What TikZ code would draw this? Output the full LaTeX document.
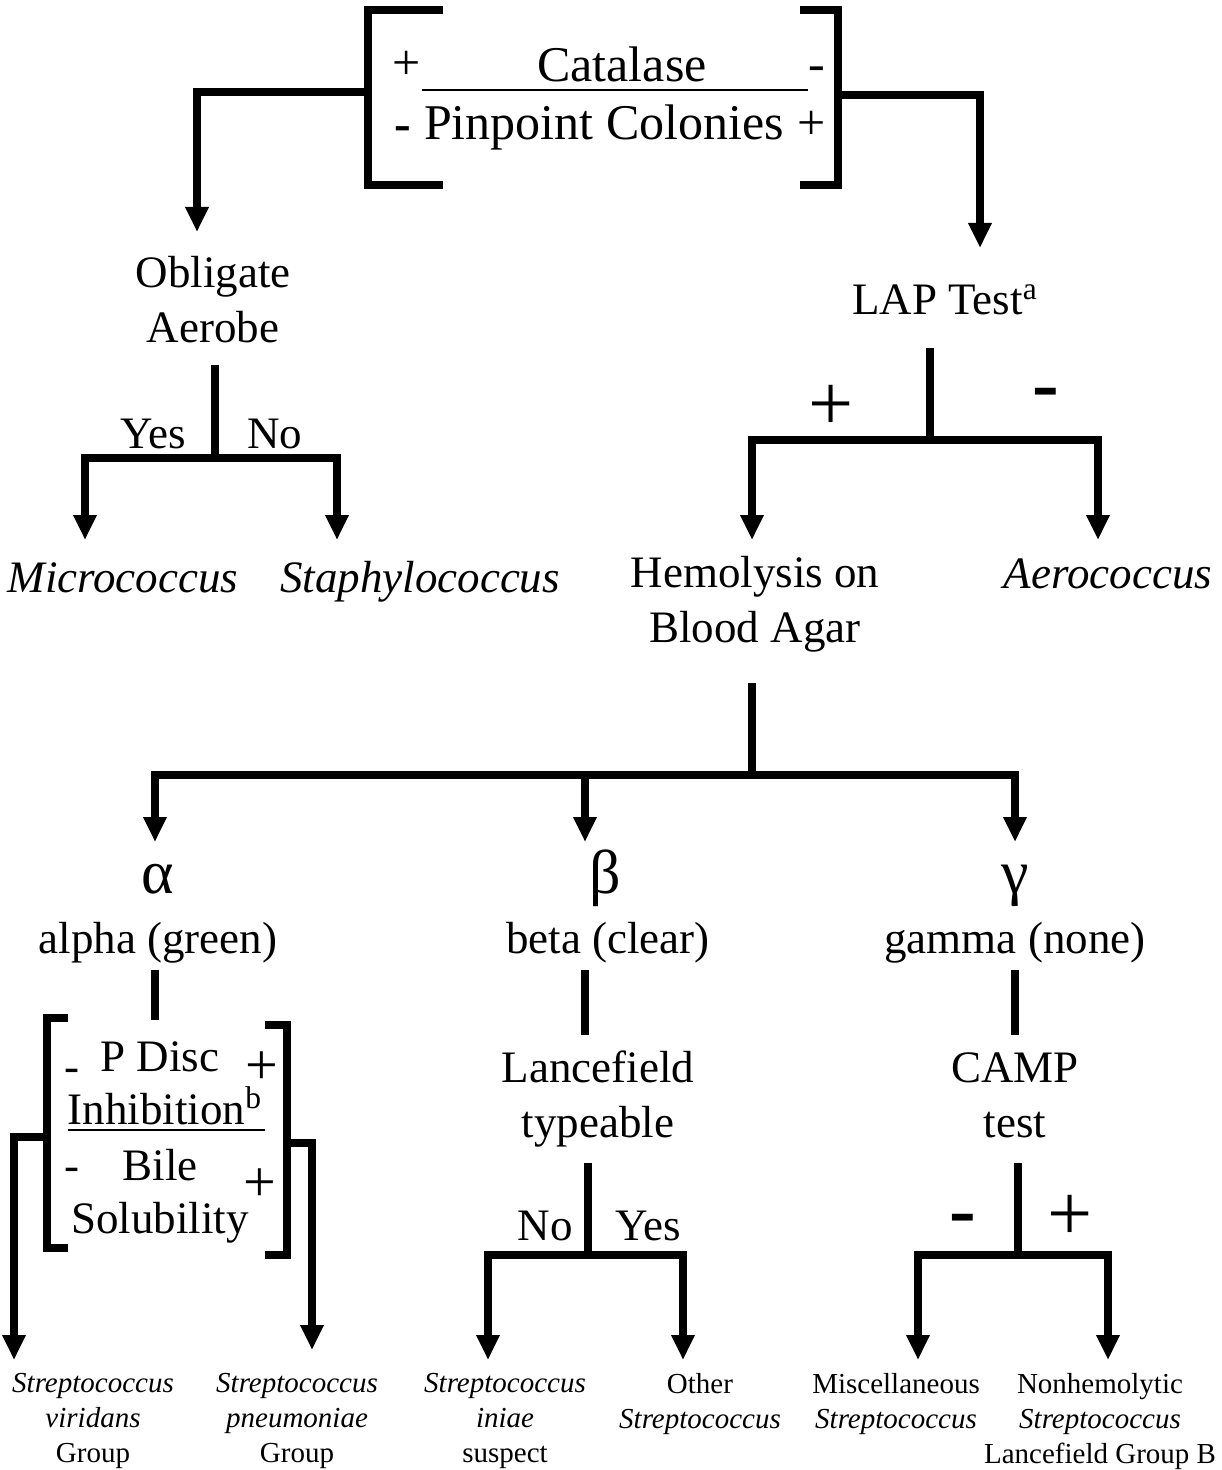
\documentclass[tikz,border=0pt]{standalone}
\usepackage{fontspec}
\setmainfont{Liberation Serif}
\usetikzlibrary{arrows.meta}
\begin{document}
\begin{tikzpicture}[x=0.5pt,y=-0.5pt,
 conn/.style={line width=3.6pt, line cap=butt, line join=miter},
 arr/.style={conn,-{Triangle[width=11pt,length=12.5pt]}},
 main/.style={font=\fontsize{22.5}{27.5}\selectfont, align=center, inner sep=0pt},
 topf/.style={font=\fontsize{25}{30}\selectfont, inner sep=0pt},
 small/.style={font=\fontsize{14.5}{17.5}\selectfont, align=center, inner sep=0pt, anchor=north},
 bigsign/.style={font=\fontsize{40}{40}\selectfont, inner sep=0pt},
 midsign/.style={font=\fontsize{29}{30}\selectfont, inner sep=0pt},
 greek/.style={font=\fontsize{31}{34}\selectfont, inner sep=0pt, anchor=base},
]
\useasboundingbox (0,0) rectangle (1221,1470);

% ---------- top box ----------
\node[topf] (plusA) at (407,65) {+};
\node[topf, anchor=base] (catalase) at (622,82) {Catalase};
\node[topf, anchor=base] (minusA) at (817,81) {-};
\draw[line width=1pt] (422,90) -- (808,90);
\node[topf, anchor=base, font=\fontsize{25}{30}\selectfont\bfseries] (minusB) at (403,141) {-};
\node[topf, anchor=base] (pinpoint) at (604,140) {Pinpoint Colonies};
\node[topf] (plusB) at (812,125) {+};
\coordinate (tlb1) at (443,10); \coordinate (tlb2) at (368,10);
\coordinate (tlb3) at (368,185); \coordinate (tlb4) at (443,185);
\coordinate (trb1) at (800,10); \coordinate (trb2) at (838,10);
\coordinate (trb3) at (838,185); \coordinate (trb4) at (800,185);
\draw[conn] (tlb1) -- (tlb2) -- (tlb3) -- (tlb4);
\draw[conn] (trb1) -- (trb2) -- (trb3) -- (trb4);
\coordinate (tl) at (368,92); \coordinate (tlend) at (197,232);
\coordinate (tr) at (838,95); \coordinate (trend) at (980,248);
\draw[arr] (tl) -| (tlend);
\draw[arr] (tr) -| (trend);

% ---------- obligate aerobe ----------
\node[main] (ob) at (213,300) {Obligate\\Aerobe};
\coordinate (obs) at (215,365); \coordinate (obj) at (215,458);
\coordinate (micend) at (85,540); \coordinate (staend) at (337,540);
\draw[conn] (obs) -- (obj);
\draw[arr] (obj) -| (micend);
\draw[arr] (obj) -| (staend);
\node[main, anchor=base] (yes1) at (153,448) {Yes};
\node[main, anchor=base] (no1) at (275,448) {No};
\node[main, anchor=base] (micro) at (123,592) {\itshape Micrococcus};
\node[main, anchor=base] (staph) at (420,592) {\itshape Staphylococcus};

% ---------- LAP ----------
\node[main, anchor=base] (lap) at (945,315) {LAP Test\textsuperscript{a}};
\coordinate (laps) at (930,348); \coordinate (lapj) at (930,440);
\coordinate (hemend) at (752,540); \coordinate (aerend) at (1098,540);
\draw[conn] (laps) -- (lapj);
\draw[arr] (lapj) -| (hemend);
\draw[arr] (lapj) -| (aerend);
\node[bigsign] (lapplus) at (831,408) {+};
\node[bigsign, anchor=base, font=\fontsize{40}{40}\selectfont\bfseries] (lapminus) at (1046,411) {-};
\node[main] (hem) at (755,604) {Hemolysis on\\Blood Agar};
\node[main, anchor=base] (aero) at (1108,588) {\itshape Aerococcus};

% ---------- hemolysis branches ----------
\coordinate (hems) at (752,683); \coordinate (hemj) at (752,775);
\coordinate (mj) at (585,775);
\coordinate (alend) at (155,842); \coordinate (beend) at (585,842); \coordinate (gaend) at (1015,842);
\draw[conn] (hems) -- (hemj);
\draw[arr] (hemj) -| (alend);
\draw[arr] (hemj) -| (gaend);
\draw[arr] (mj) -- (beend);

\node[greek] (galpha) at (158,893) {α};
\node[greek] (gbeta) at (605,893) {β};
\node[greek] (ggamma) at (1015,893) {γ};
\node[main, anchor=base] (alpha) at (158,953) {alpha (green)};
\node[main, anchor=base] (beta) at (608,953) {beta (clear)};
\node[main, anchor=base] (gamma) at (1015,953) {gamma (none)};

% ---------- alpha column ----------
\coordinate (als1) at (155,970); \coordinate (als2) at (155,1020);
\draw[conn] (als1) -- (als2);
\coordinate (alb1) at (68,1018); \coordinate (alb2) at (47,1018);
\coordinate (alb3) at (47,1248); \coordinate (alb4) at (68,1248);
\coordinate (arb1) at (265,1025); \coordinate (arb2) at (287,1025);
\coordinate (arb3) at (287,1255); \coordinate (arb4) at (265,1255);
\draw[conn] (alb1) -- (alb2) -- (alb3) -- (alb4);
\draw[conn] (arb1) -- (arb2) -- (arb3) -- (arb4);
\node[main, anchor=base] (pdisc) at (160,1071) {P Disc};
\node[main, anchor=base] (inhib) at (165,1124) {Inhibition\textsuperscript{b}};
\draw[line width=1pt] (68,1130) -- (265,1130);
\node[main, anchor=base] (bile) at (160,1180) {Bile};
\node[main, anchor=base] (solub) at (160,1233) {Solubility};
\node[main, anchor=base] (minC) at (72,1081) {-};
\node[main, anchor=base] (minD) at (72,1180) {-};
\node[midsign] (plC) at (262,1068) {+};
\node[midsign] (plD) at (260,1185) {+};
\coordinate (all) at (47,1137); \coordinate (viend) at (14,1360);
\coordinate (alr) at (287,1143); \coordinate (pnend) at (312,1350);
\draw[arr] (all) -| (viend);
\draw[arr] (alr) -| (pnend);

% ---------- beta column ----------
\coordinate (bes1) at (585,970); \coordinate (bes2) at (585,1035);
\draw[conn] (bes1) -- (bes2);
\node[main] (lance) at (598,1099) {Lancefield\\typeable};
\coordinate (bes3) at (588,1163); \coordinate (bej) at (588,1255);
\coordinate (inend) at (488,1360); \coordinate (otend) at (683,1360);
\draw[conn] (bes3) -- (bej);
\draw[arr] (bej) -| (inend);
\draw[arr] (bej) -| (otend);
\node[main, anchor=base] (no2) at (545,1240) {No};
\node[main, anchor=base] (yes2) at (648,1240) {Yes};

% ---------- gamma column ----------
\coordinate (gas1) at (1015,970); \coordinate (gas2) at (1015,1035);
\draw[conn] (gas1) -- (gas2);
\node[main] (camp) at (1015,1095) {CAMP\\test};
\coordinate (gas3) at (1018,1163); \coordinate (gaj) at (1018,1255);
\coordinate (miend) at (918,1360); \coordinate (nhend) at (1108,1360);
\draw[conn] (gas3) -- (gaj);
\draw[arr] (gaj) -| (miend);
\draw[arr] (gaj) -| (nhend);
\node[bigsign, anchor=base, font=\fontsize{40}{40}\selectfont\bfseries] (campminus) at (963,1236) {-};
\node[bigsign] (campplus) at (1070,1218) {+};

% ---------- leaves ----------
\node[small] (vir) at (93,1373) {\itshape Streptococcus\\\itshape viridans\\Group};
\node[small] (pne) at (297,1373) {\itshape Streptococcus\\\itshape pneumoniae\\Group};
\node[small] (ini) at (505,1373) {\itshape Streptococcus\\\itshape iniae\\suspect};
\node[small] (oth) at (700,1373) {Other\\\itshape Streptococcus};
\node[small] (mis) at (896,1373) {Miscellaneous\\\itshape Streptococcus};
\node[small] (nhe) at (1100,1373) {Nonhemolytic\\\itshape Streptococcus\\Lancefield Group B};
\end{tikzpicture}
\end{document}
